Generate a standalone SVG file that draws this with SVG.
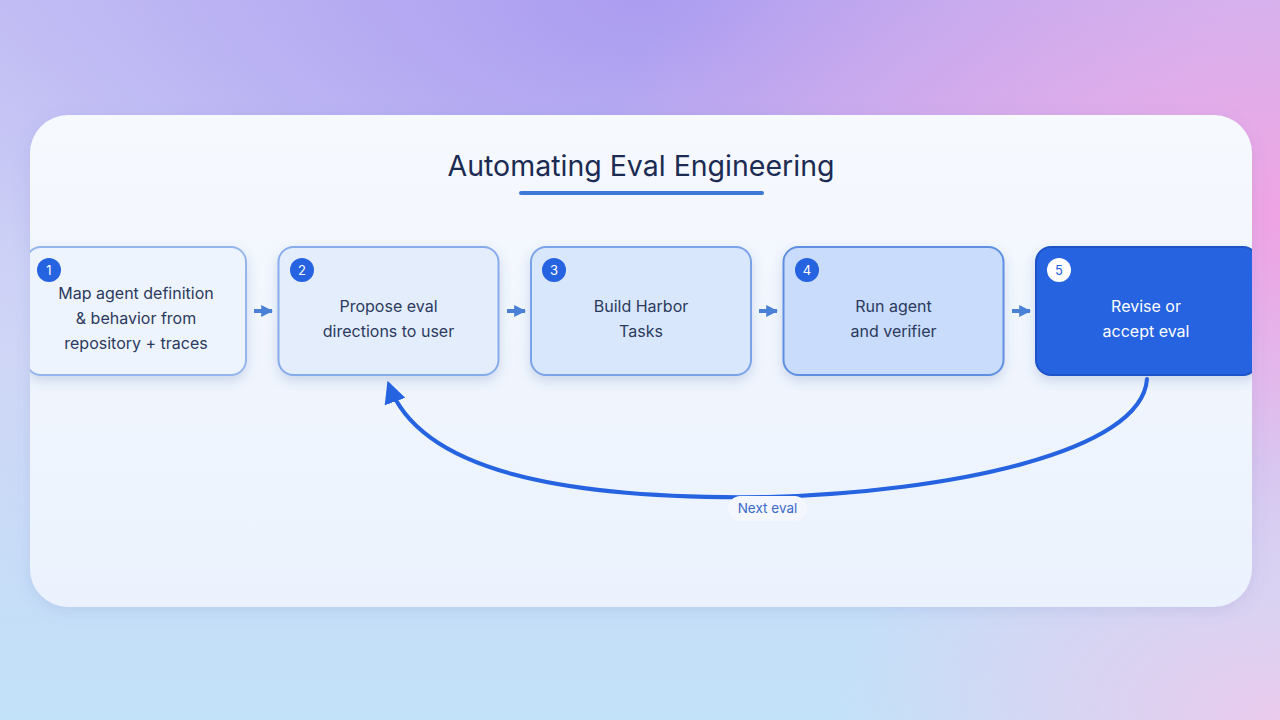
<svg xmlns="http://www.w3.org/2000/svg" width="1280" height="720" viewBox="0 0 1280 720">
  <defs>
    <linearGradient id="bgBase" x1="0" y1="0" x2="0" y2="1">
      <stop offset="0" stop-color="#c6c4f5"/>
      <stop offset="0.5" stop-color="#cfd6f6"/>
      <stop offset="1" stop-color="#c2e2f9"/>
    </linearGradient>
    <radialGradient id="bgPurple" cx="0.5" cy="0" r="0.6">
      <stop offset="0" stop-color="#a998f0" stop-opacity="0.9"/>
      <stop offset="1" stop-color="#a998f0" stop-opacity="0"/>
    </radialGradient>
    <radialGradient id="bgPink" cx="1" cy="0.3" r="0.55">
      <stop offset="0" stop-color="#f0a3e4" stop-opacity="1"/>
      <stop offset="1" stop-color="#f0a3e4" stop-opacity="0"/>
    </radialGradient>
    <radialGradient id="bgPink2" cx="1" cy="1" r="0.35">
      <stop offset="0" stop-color="#f4c4ea" stop-opacity="0.8"/>
      <stop offset="1" stop-color="#f4c4ea" stop-opacity="0"/>
    </radialGradient>
    <linearGradient id="cardFill" x1="0" y1="0" x2="0" y2="1">
      <stop offset="0" stop-color="#f6f9fe"/>
      <stop offset="1" stop-color="#ebf2fd"/>
    </linearGradient>
    <clipPath id="cardClip">
      <rect x="30" y="115" width="1222" height="492" rx="38"/>
    </clipPath>
    <filter id="cardShadow" x="-5%" y="-10%" width="110%" height="125%">
      <feDropShadow dx="0" dy="4" stdDeviation="8" flood-color="#5a6fb0" flood-opacity="0.15"/>
    </filter>
    <filter id="boxShadow" x="-10%" y="-10%" width="120%" height="135%">
      <feDropShadow dx="0" dy="5" stdDeviation="6" flood-color="#3a5aa0" flood-opacity="0.2"/>
    </filter>
    <marker id="stepArrow" viewBox="0 0 10 10" refX="9" refY="5" markerWidth="3" markerHeight="3.2" orient="auto" markerUnits="strokeWidth">
      <path d="M0,0 L10,5 L0,10 z" fill="#4a80d6"/>
    </marker>
    <marker id="loopArrow" viewBox="0 0 10 10" refX="8" refY="5" markerWidth="5.5" markerHeight="5.5" orient="auto" markerUnits="strokeWidth">
      <path d="M0,0 L10,5 L0,10 z" fill="#2563e0"/>
    </marker>
    <style>
      .box { stroke-width: 2; }
      .label { font-family: Inter, "Liberation Sans", Arial, sans-serif; font-size: 16px; fill: #2b3a5e; text-anchor: middle; }
      .num { font-family: Inter, "Liberation Sans", Arial, sans-serif; font-size: 13px; fill: #ffffff; text-anchor: middle; }
      .badge { fill: #2563e0; }
      .step { stroke: #4a80d6; stroke-width: 4; marker-end: url(#stepArrow); }
    </style>
  </defs>

  <!-- background -->
  <rect width="1280" height="720" fill="url(#bgBase)"/>
  <rect width="1280" height="720" fill="url(#bgPurple)"/>
  <rect width="1280" height="720" fill="url(#bgPink)"/>
  <rect width="1280" height="720" fill="url(#bgPink2)"/>

  <!-- card -->
  <rect x="30" y="115" width="1222" height="492" rx="38" fill="url(#cardFill)" filter="url(#cardShadow)"/>

  <g id="title">
    <text x="641" y="176" font-family="Inter, 'Liberation Sans', Arial, sans-serif" font-size="28.5" fill="#1b2b52" text-anchor="middle">Automating Eval Engineering</text>
    <line x1="521" y1="193" x2="762" y2="193" stroke="#3d79d9" stroke-width="4" stroke-linecap="round"/>
  </g>

  <g clip-path="url(#cardClip)">
    <g id="node1">
      <rect class="box" x="26" y="247" width="220" height="128" rx="15" fill="#eef4fd" stroke="#94b6ec" filter="url(#boxShadow)"/>
      <circle class="badge" cx="49" cy="270" r="12"/>
      <text class="num" x="49" y="275">1</text>
      <text class="label" x="136" y="299">Map agent definition</text>
      <text class="label" x="136" y="324">&amp; behavior from</text>
      <text class="label" x="136" y="349">repository + traces</text>
    </g>
    <g id="node2">
      <rect class="box" x="278.5" y="247" width="220" height="128" rx="15" fill="#e3edfc" stroke="#87aceb" filter="url(#boxShadow)"/>
      <circle class="badge" cx="302" cy="270" r="12"/>
      <text class="num" x="302" y="275">2</text>
      <text class="label" x="388.5" y="312">Propose eval</text>
      <text class="label" x="388.5" y="337">directions to user</text>
    </g>
    <g id="node3">
      <rect class="box" x="531" y="247" width="220" height="128" rx="15" fill="#d9e7fc" stroke="#7aa3e8" filter="url(#boxShadow)"/>
      <circle class="badge" cx="554" cy="270" r="12"/>
      <text class="num" x="554" y="275">3</text>
      <text class="label" x="641" y="312">Build Harbor</text>
      <text class="label" x="641" y="337">Tasks</text>
    </g>
    <g id="node4">
      <rect class="box" x="783.5" y="247" width="220" height="128" rx="15" fill="#c9dcfb" stroke="#5e8fe2" filter="url(#boxShadow)"/>
      <circle class="badge" cx="807" cy="270" r="12"/>
      <text class="num" x="807" y="275">4</text>
      <text class="label" x="893.5" y="312">Run agent</text>
      <text class="label" x="893.5" y="337">and verifier</text>
    </g>
    <g id="node5">
      <rect class="box" x="1036" y="247" width="222" height="128" rx="15" fill="#2563e0" stroke="#1e52c8" filter="url(#boxShadow)"/>
      <circle cx="1059" cy="270" r="12" fill="#ffffff"/>
      <text class="num" x="1059" y="275" style="fill:#2563e0">5</text>
      <text class="label" x="1146" y="312" style="fill:#ffffff">Revise or</text>
      <text class="label" x="1146" y="337" style="fill:#ffffff">accept eval</text>
    </g>
  </g>

  <g id="connectors">
    <line class="step" x1="254" y1="311" x2="272" y2="311"/>
    <line class="step" x1="507" y1="311" x2="525" y2="311"/>
    <line class="step" x1="759" y1="311" x2="777" y2="311"/>
    <line class="step" x1="1012" y1="311" x2="1030" y2="311"/>
    <path d="M1147,379 C1142,452 950,492 768,497 C560,500 420,470 389,385" fill="none" stroke="#2563e0" stroke-width="4" stroke-linecap="round" marker-end="url(#loopArrow)"/>
    <g id="loopLabel">
      <rect x="728" y="496" width="79" height="25" rx="12.5" fill="#f4f8fe"/>
      <text x="767.5" y="513" font-family="Inter, 'Liberation Sans', Arial, sans-serif" font-size="13.5" fill="#3a69c9" text-anchor="middle">Next eval</text>
    </g>
  </g>
</svg>
